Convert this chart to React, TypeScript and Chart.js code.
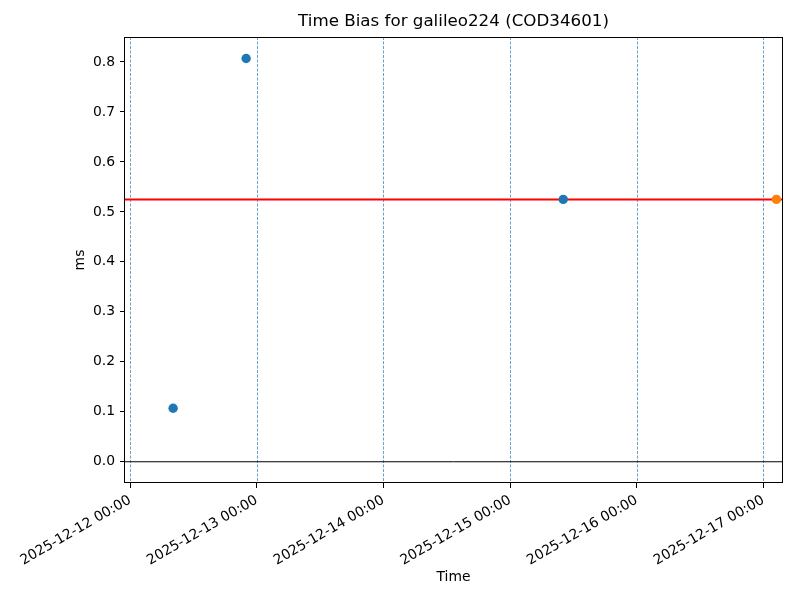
import React, { useEffect, useRef } from "react";
import { Chart, registerables } from "chart.js";

Chart.register(...registerables);

const DAY = 86400000;
const T0 = Date.UTC(2025, 11, 12, 0, 0);

const titleText = "Time Bias for galileo224 (COD34601)";
const xLabel = "Time";
const yLabel = "ms";

// observed points (blue)
const obsTimes = [
  Date.UTC(2025, 11, 12, 8, 10),
  Date.UTC(2025, 11, 12, 22, 0),
  Date.UTC(2025, 11, 15, 10, 5),
];
const obsValues = [0.107, 0.807, 0.525];

// predicted point (orange)
const predTimes = [Date.UTC(2025, 11, 17, 2, 28)];
const predValues = [0.525];

// reference level (red)
const refLevel = 0.525;

// day boundary lines and x ticks
const dayTicks = [0, 1, 2, 3, 4, 5].map((d) => T0 + d * DAY);
const yTicks = [0, 0.1, 0.2, 0.3, 0.4, 0.5, 0.6, 0.7, 0.8];

const xMin = T0 - 57 * 60000;
const xMax = Date.UTC(2025, 11, 17, 3, 32);
const yMin = -0.0425;
const yMax = 0.85;

const pad = (n: number) => String(n).padStart(2, "0");
const fmt = (v: number) => {
  const d = new Date(v);
  return `${d.getUTCFullYear()}-${pad(d.getUTCMonth() + 1)}-${pad(d.getUTCDate())} ${pad(
    d.getUTCHours()
  )}:${pad(d.getUTCMinutes())}`;
};

export default function App() {
  const ref = useRef<HTMLCanvasElement>(null);
  useEffect(() => {
    document.body.style.margin = "0";
    const font = "DejaVu Sans";
    const decor = {
      id: "decor",
      beforeDatasetsDraw(chart: any) {
        const { ctx, chartArea, scales } = chart;
        ctx.save();
        ctx.strokeStyle = "rgba(31,119,180,0.85)";
        ctx.lineWidth = 0.8;
        ctx.setLineDash([3, 1.5]);
        dayTicks.forEach((t) => {
          const x = Math.round(scales.x.getPixelForValue(t)) + 0.5;
          ctx.beginPath();
          ctx.moveTo(x, chartArea.top);
          ctx.lineTo(x, chartArea.bottom);
          ctx.stroke();
        });
        ctx.restore();
      },
      afterDraw(chart: any) {
        const { ctx, chartArea } = chart;
        ctx.save();
        ctx.strokeStyle = "#000";
        ctx.lineWidth = 1;
        ctx.strokeRect(
          chartArea.left - 0.5,
          chartArea.top + 0.5,
          chartArea.right - chartArea.left + 1,
          chartArea.bottom - chartArea.top - 1
        );
        ctx.fillStyle = "#000";
        ctx.textAlign = "center";
        ctx.textBaseline = "middle";
        const cx = (chartArea.left + chartArea.right) / 2;
        ctx.font = `16.7px "${font}"`;
        ctx.fillText(titleText, cx, 22);
        ctx.font = `13.9px "${font}"`;
        ctx.fillText(xLabel, cx, 577);
        ctx.translate(80, (chartArea.top + chartArea.bottom) / 2);
        ctx.rotate(-Math.PI / 2);
        ctx.fillText(yLabel, 0, 0);
        ctx.restore();
      },
    };

    const chart = new Chart(ref.current!, {
      type: "scatter",
      data: {
        datasets: [
          {
            data: predTimes.map((t, i) => ({ x: t, y: predValues[i] })),
            backgroundColor: "#ff7f0e",
            borderColor: "#ff7f0e",
            pointRadius: 4.7,
            pointBorderWidth: 0,
          },
          {
            data: obsTimes.map((t, i) => ({ x: t, y: obsValues[i] })),
            backgroundColor: "#1f77b4",
            borderColor: "#1f77b4",
            pointRadius: 4.7,
            pointBorderWidth: 0,
          },
          {
            data: [
              { x: xMin, y: refLevel },
              { x: xMax, y: refLevel },
            ],
            showLine: true,
            borderColor: "#ff0000",
            borderWidth: 2,
            pointRadius: 0,
          },
          {
            data: [
              { x: xMin, y: 0 },
              { x: xMax, y: 0 },
            ],
            showLine: true,
            borderColor: "#000",
            borderWidth: 1,
            pointRadius: 0,
          },
        ],
      } as any,
      options: {
        responsive: false,
        animation: false,
        layout: { padding: { top: 37, right: 18, left: 0, bottom: 0 } },
        plugins: {
          legend: { display: false },
          title: { display: false },
          tooltip: { enabled: false },
        },
        scales: {
          x: {
            type: "linear",
            min: xMin,
            max: xMax,
            afterBuildTicks: (s: any) => {
              s.ticks = dayTicks.map((v) => ({ value: v }));
            },
            afterFit: (s: any) => {
              s.height = 117;
            },
            ticks: {
              autoSkip: false,
              minRotation: 30,
              maxRotation: 30,
              padding: 4,
              color: "#000",
              font: { family: font, size: 13.9 },
              callback: (v: any) => fmt(Number(v)),
            },
            grid: {
              drawOnChartArea: false,
              drawTicks: true,
              tickLength: 5,
              color: "#000",
            },
            border: { display: false },
          },
          y: {
            type: "linear",
            min: yMin,
            max: yMax,
            afterBuildTicks: (s: any) => {
              s.ticks = yTicks.map((v) => ({ value: v }));
            },
            afterFit: (s: any) => {
              s.width = 125;
            },
            ticks: {
              padding: 5,
              color: "#000",
              font: { family: font, size: 13.9 },
              callback: (v: any) => Number(v).toFixed(1),
            },
            grid: {
              drawOnChartArea: false,
              drawTicks: true,
              tickLength: 5,
              color: "#000",
            },
            border: { display: false },
          },
        },
      } as any,
      plugins: [decor],
    });
    return () => chart.destroy();
  }, []);
  return (
    <div style={{ width: 800, height: 600, background: "#fff" }}>
      <canvas ref={ref} width={800} height={600} style={{ display: "block" }} />
    </div>
  );
}
